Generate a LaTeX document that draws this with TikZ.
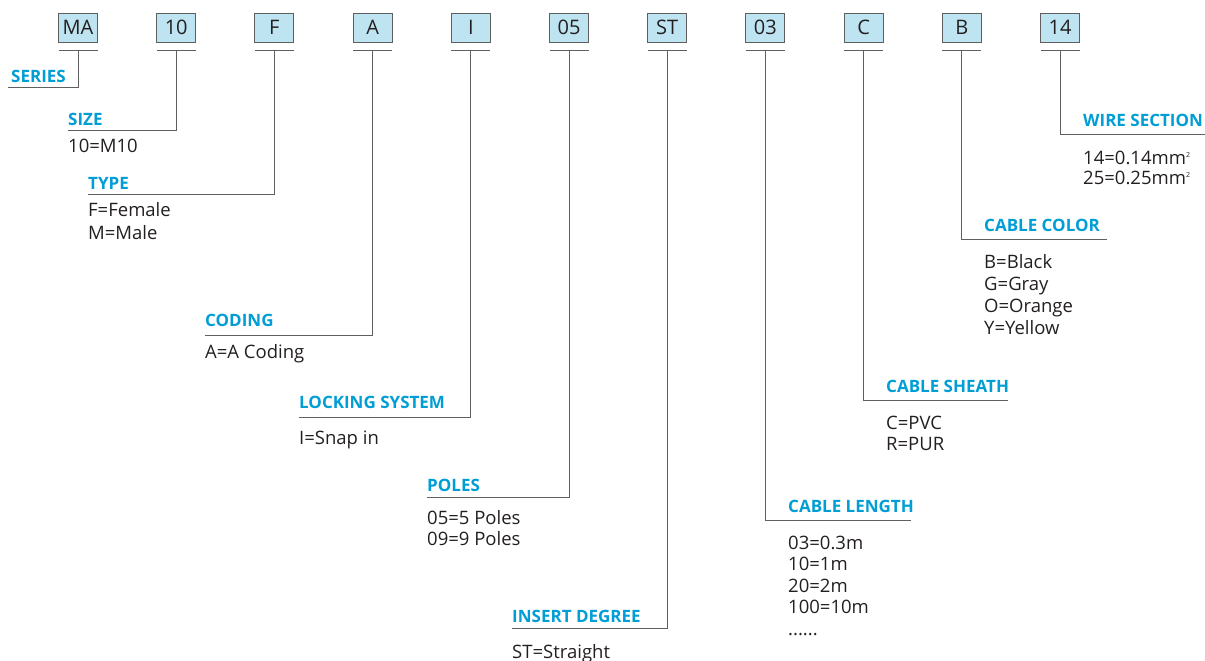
\documentclass[tikz,border=0pt]{standalone}
\usepackage{fontspec}
\setmainfont{Open Sans}
\definecolor{codefill}{RGB}{190,228,242}
\definecolor{headblue}{RGB}{0,158,212}
\definecolor{leadgray}{RGB}{95,95,95}
\definecolor{inkgray}{RGB}{35,31,32}
\usetikzlibrary{positioning}

\begin{document}
\begin{tikzpicture}[
    x=1pt, y=-1pt,
    code/.style={draw=leadgray, fill=codefill, line width=0.9pt,
      minimum width=39pt, minimum height=29pt, inner sep=0pt,
      font=\fontsize{20}{22}\selectfont, text=inkgray},
    lead/.style={draw=leadgray, line width=1pt},
    head/.style={anchor=base west, inner sep=0pt, text=headblue,
      font=\fontsize{17}{19}\selectfont\bfseries},
    vals/.style={anchor=base west, inner sep=0pt, align=left, text=inkgray,
      font=\fontsize{18.5}{21.5}\selectfont},
  ]
    \useasboundingbox (0,0) rectangle (1205,661);
    % code boxes with their bars
    \foreach \code [count=\i from 0] in {MA,10,F,A,I,05,ST,03,C,B,14} {
      \node[code] (k\i) at ({78+98.2*\i},27.5) {\code};
      \coordinate (j\i) at ({78+98.2*\i},51);
      \draw[lead] ([xshift=-19.5pt]j\i) -- ([xshift=19.5pt]j\i);
    }
    % line ends
    \coordinate (e0) at (8,88);
    \coordinate (e1) at (68,130);
    \coordinate (e2) at (88,194);
    \coordinate (e3) at (205,335);
    \coordinate (e4) at (299,417);
    \coordinate (e5) at (427,497);
    \coordinate (e6) at (512,628);
    \coordinate (e7) at (911,520);
    \coordinate (e8) at (1008,400);
    \coordinate (e9) at (1107,239);
    \coordinate (e10) at (1205,134);
    \foreach \i in {0,...,10} \draw[lead] (j\i) |- (e\i);
    % headings
    \node[head] (h0) at (11,83) {SERIES};
    \node[head] (h1) at (68,125) {SIZE};
    \node[head] (h2) at (88,189) {TYPE};
    \node[head] (h3) at (205,326) {CODING};
    \node[head] (h4) at (299,408) {LOCKING SYSTEM};
    \node[head] (h5) at (427,491) {POLES};
    \node[head] (h6) at (512,622) {INSERT DEGREE};
    \node[head] (h7) at (788,512) {CABLE LENGTH};
    \node[head] (h8) at (886,392) {CABLE SHEATH};
    \node[head] (h9) at (984,231) {CABLE COLOR};
    \node[head] (h10) at (1083,126) {WIRE SECTION};
    % values (base = last line)
    \node[vals] (v1) at (68,152) {10=M10};
    \node[vals, font=\fontsize{18.5}{23}\selectfont] (v2) at (88,239) {F=Female\\M=Male};
    \node[vals] (v3) at (205,358) {A=A Coding};
    \node[vals] (v4) at (299,444) {I=Snap in};
    \node[vals] (v5) at (427,545.5) {05=5 Poles\\09=9 Poles};
    \node[vals] (v6) at (512,658) {ST=Straight};
    \node[vals] (v7) at (788,635) {03=0.3m\\10=1m\\20=2m\\100=10m\\......};
    \node[vals] (v8) at (886,450.5) {C=PVC\\R=PUR};
    \node[vals, font=\fontsize{18.5}{22}\selectfont] (v9) at (984,334) {B=Black\\G=Gray\\O=Orange\\Y=Yellow};
    \node[vals, font=\fontsize{18.5}{20}\selectfont] (v10) at (1083,184)
      {14=0.14mm\raisebox{7pt}{\fontsize{7}{7}\selectfont 2}\\25=0.25mm\raisebox{7pt}{\fontsize{7}{7}\selectfont 2}};
  \end{tikzpicture}
\end{document}
